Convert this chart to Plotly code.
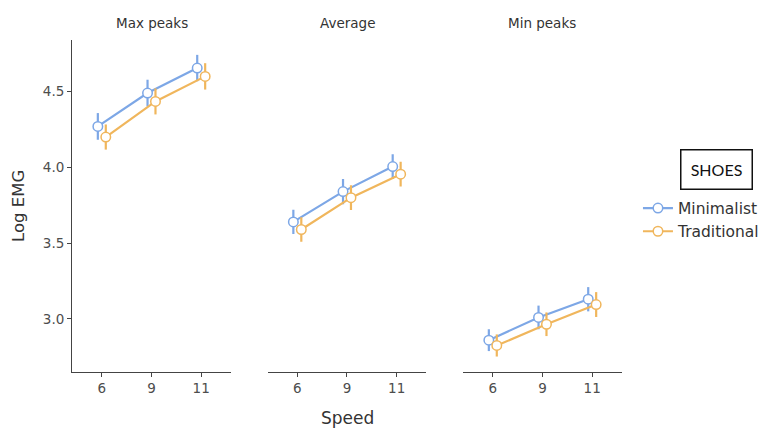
import plotly.graph_objects as go

speeds = ["6", "9", "11"]
panels = ["Max peaks", "Average", "Min peaks"]
shoes = ["Minimalist", "Traditional"]

minimalist_vals = {
    "Max peaks": [4.27, 4.49, 4.655],
    "Average": [3.64, 3.84, 4.005],
    "Min peaks": [2.86, 3.01, 3.13],
}
traditional_vals = {
    "Max peaks": [4.20, 4.435, 4.60],
    "Average": [3.59, 3.80, 3.955],
    "Min peaks": [2.825, 2.965, 3.095],
}
minimalist_err = {
    "Max peaks": [0.088, 0.088, 0.087],
    "Average": [0.08, 0.083, 0.082],
    "Min peaks": [0.072, 0.078, 0.08],
}
traditional_err = {
    "Max peaks": [0.083, 0.086, 0.087],
    "Average": [0.08, 0.082, 0.082],
    "Min peaks": [0.073, 0.078, 0.082],
}

colors = {"Minimalist": "#7DA7E6", "Traditional": "#F0B65C"}
dodge = {"Minimalist": -0.08, "Traditional": 0.08}
vals = {"Minimalist": minimalist_vals, "Traditional": traditional_vals}
errs = {"Minimalist": minimalist_err, "Traditional": traditional_err}

FONT = "DejaVu Sans"
fig = go.Figure()

domains = [[0.0, 0.2891], [0.3555, 0.6445], [0.7109, 1.0]]
xpos = list(range(len(speeds)))

for pi, panel in enumerate(panels):
    for s in shoes:
        fig.add_trace(go.Scatter(
            x=[p + dodge[s] for p in xpos],
            y=vals[s][panel],
            mode="lines+markers",
            name=s,
            legendgroup=s,
            showlegend=(pi == 0),
            line=dict(color=colors[s], width=2.2),
            marker=dict(size=9.5, color="white", line=dict(color=colors[s], width=1.5)),
            error_y=dict(type="data", array=errs[s][panel], symmetric=True,
                         color=colors[s], thickness=2.2, width=0),
            xaxis="x" if pi == 0 else f"x{pi+1}",
            yaxis="y" if pi == 0 else f"y{pi+1}",
        ))

axis_common = dict(
    tickmode="array", tickvals=xpos, ticktext=speeds, range=[-0.6, 2.6],
    showline=True, linecolor="#444", linewidth=1, ticks="outside", ticklen=4,
    tickcolor="#444", tickfont=dict(family=FONT, size=13.5, color="#4D4D4D"),
    showgrid=False, zeroline=False,
)
yrange = [2.65, 4.84]
layout = dict(
    width=769, height=428,
    margin=dict(l=72, r=147, t=40, b=56),
    plot_bgcolor="white", paper_bgcolor="white",
    font=dict(family=FONT, color="#333"),
    showlegend=True,
    legend=dict(x=0.8296, y=0.5525, xref="container", yref="container",
                xanchor="left", yanchor="top",
                font=dict(family=FONT, size=15.5, color="#333"),
                bgcolor="rgba(0,0,0,0)", tracegroupgap=0),
)
for i in range(3):
    xa = "xaxis" if i == 0 else f"xaxis{i+1}"
    ya = "yaxis" if i == 0 else f"yaxis{i+1}"
    layout[xa] = dict(axis_common, domain=domains[i], anchor="y" if i == 0 else f"y{i+1}")
    if i == 0:
        layout[ya] = dict(range=yrange, tickvals=[3.0, 3.5, 4.0, 4.5],
                          ticktext=["3.0", "3.5", "4.0", "4.5"],
                          showline=True, linecolor="#444", linewidth=1,
                          ticks="outside", ticklen=4, tickcolor="#444",
                          tickfont=dict(family=FONT, size=13.5, color="#4D4D4D"),
                          showgrid=False, zeroline=False, anchor="x")
    else:
        layout[ya] = dict(range=yrange, matches="y", showline=False, ticks="",
                          showticklabels=False, showgrid=False, zeroline=False,
                          anchor=f"x{i+1}")

fig.update_layout(**layout)

annotations = []
for i, panel in enumerate(panels):
    annotations.append(dict(
        text=panel, x=(domains[i][0] + domains[i][1]) / 2, y=1, xref="paper", yref="paper",
        xanchor="center", yanchor="bottom", yshift=7, showarrow=False,
        font=dict(family=FONT, size=13.5, color="#333")))
annotations.append(dict(text="Speed", x=0.5, y=0, xref="paper", yref="paper",
                        xanchor="center", yanchor="middle", yshift=-46, showarrow=False,
                        font=dict(family=FONT, size=17, color="#333")))
annotations.append(dict(text="Log EMG", x=0, y=0.5, xref="paper", yref="paper",
                        xanchor="center", yanchor="middle", xshift=-54, textangle=-90,
                        showarrow=False, font=dict(family=FONT, size=16.5, color="#333")))
annotations.append(dict(text="SHOES", x=1.0, y=0.5, xref="paper", yref="paper",
                        xanchor="left", yanchor="bottom", xshift=58,
                        yshift=16, showarrow=False,
                        width=70, height=38, bordercolor="#111", borderwidth=1.5, borderpad=0,
                        font=dict(family="Lato", size=16, color="#111")))
fig.update_layout(annotations=annotations)

fig.write_html("out.html", post_script="document.body.style.margin='0';",
               config={"displayModeBar": False})
